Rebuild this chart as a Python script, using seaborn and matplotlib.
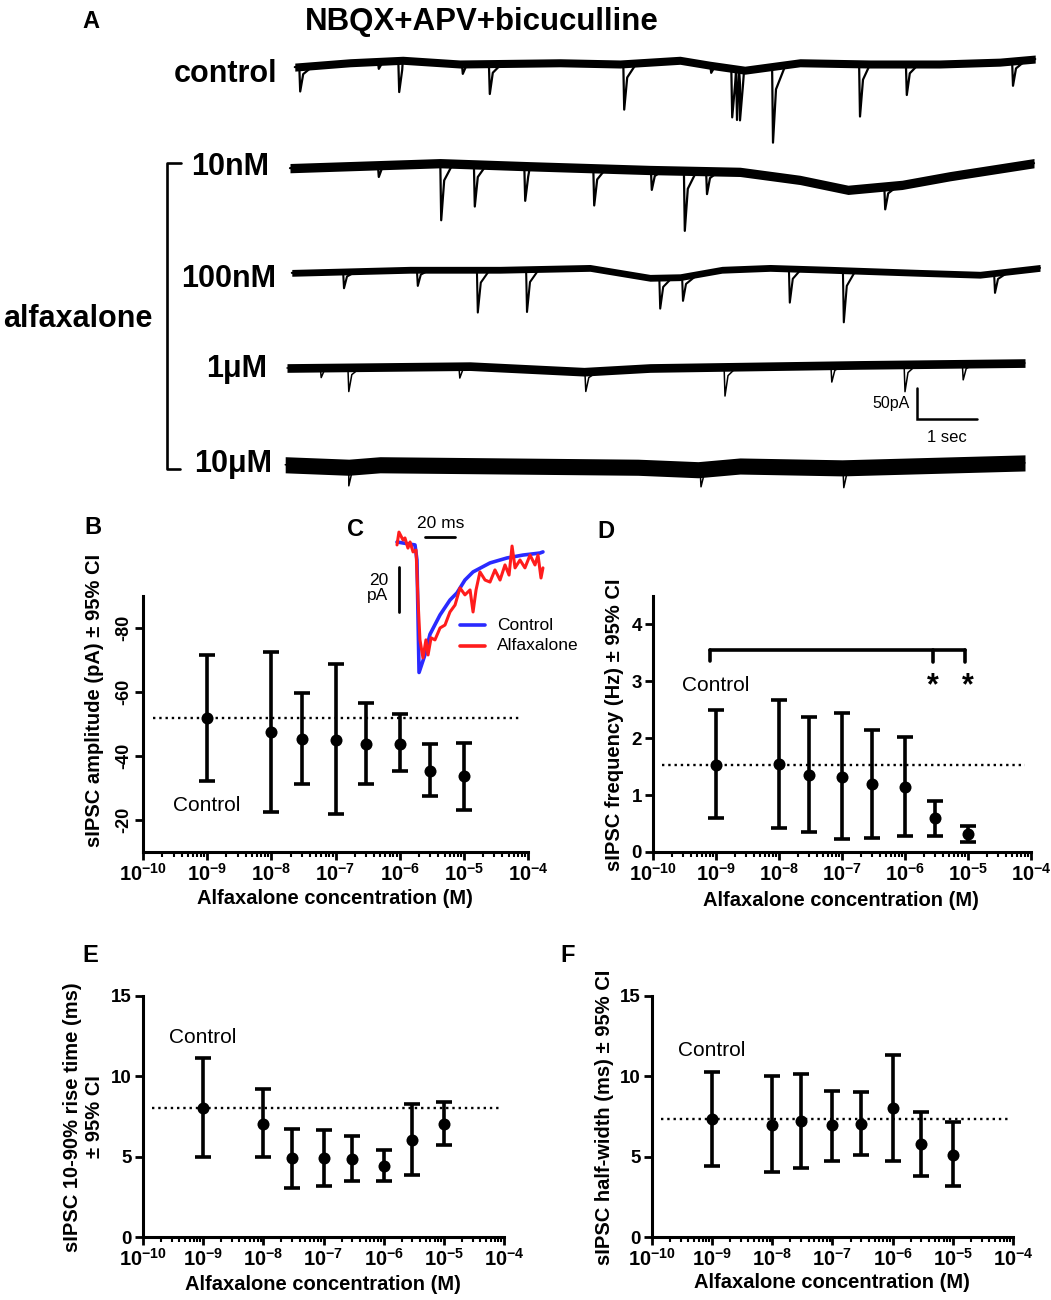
import numpy as np
import pandas as pd
import matplotlib
matplotlib.use("Agg")
import matplotlib.pyplot as plt
from matplotlib.ticker import NullFormatter
import seaborn as sns

# ---- data ----
# dose-response panels (B, D, E, F)
conc = [1e-9, 1e-8, 3e-8, 1e-7, 3e-7, 1e-6, 3e-6, 1e-5]
amp_mean = [-52.0, -47.4, -45.4, -45.0, -43.7, -43.9, -35.4, -33.6]
amp_lo = [-32.3, -22.5, -31.3, -22.0, -31.3, -35.3, -27.4, -23.2]
amp_hi = [-71.7, -72.4, -59.7, -68.6, -56.7, -53.1, -43.7, -44.2]
freq_mean = [1.53, 1.55, 1.36, 1.32, 1.19, 1.14, 0.59, 0.31]
freq_lo = [0.59, 0.43, 0.35, 0.22, 0.25, 0.29, 0.29, 0.18]
freq_hi = [2.49, 2.68, 2.38, 2.44, 2.14, 2.02, 0.89, 0.46]
rise_mean = [8.06, 7.04, 4.89, 4.91, 4.87, 4.43, 6.05, 7.02]
rise_lo = [4.97, 4.97, 3.07, 3.17, 3.50, 3.50, 3.87, 5.70]
rise_hi = [11.12, 9.20, 6.73, 6.67, 6.26, 5.39, 8.29, 8.39]
hw_mean = [7.33, 7.00, 7.21, 6.94, 7.02, 8.02, 5.78, 5.12]
hw_lo = [4.39, 4.04, 4.29, 4.74, 5.12, 4.74, 3.81, 3.19]
hw_hi = [10.30, 10.03, 10.13, 9.09, 9.01, 11.31, 7.81, 7.13]

# significance bracket in D (x positions and heights in Hz)
bracket_x = [8e-10, 2.8e-6, 9e-6]
bracket_y = 3.55
bracket_drop = [3.36, 3.34, 3.34]
star_x = [2.8e-6, 1.0e-5]

# averaged sIPSC in C (ms, pA)
ctrl_ms = [0, 12, 13.3, 14.7, 18.7, 22, 28.7, 35.3, 40, 45.3, 50.7, 62, 73.3, 84, 95.3, 97.3]
ctrl_pa = [0, -1.3, -8, -58, -50, -41, -32.4, -25.8, -22.6, -16.9, -13.3, -9.3, -7.1, -5.8, -4.9, -4.4]
alfa_ms = [0, 1.3, 4, 5.3, 7.3, 8.7, 10.7, 12.7, 14, 15.3, 17.3, 19.3, 20.7, 22.7, 25.3, 28.7,
           32, 35.3, 38.7, 42, 45.3, 48.7, 50.7, 52.7, 55.3, 58.7, 62, 65.3, 68.7, 72, 74.7,
           76.7, 78.7, 82, 85.3, 88.7, 92, 94, 96, 97.3]
alfa_pa = [-1.3, 4.4, 0.9, 1.8, -2.7, 0, -4.4, -3.6, -25.8, -43.5, -51.5, -43.5, -50.2, -42.6,
           -43.5, -38.2, -36.9, -31.1, -28, -20.4, -23.5, -21.3, -31.1, -21.3, -13.3, -16.9,
           -17.8, -12.4, -16.9, -10.2, -14.7, -1.8, -11.5, -8, -11.5, -5.8, -10.2, -5.8, -16, -11.5]

# raw traces in A: baseline drift (s, pA), events (s, pA amplitude), noise p-p (pA)
trace_names = ["control", "10nM", "100nM", "1\u03bcM", "10\u03bcM"]
ctrl_base_t = [0.08, 1.0, 1.88, 2.83, 4.5, 5.5, 6.5, 7.0, 7.58, 8.5, 9.67, 10.83, 11.83, 12.42]
ctrl_base_pa = [-5, 2, 6, 0, 2, 0, 6, -2, -10, 2, 0, 0, 3, 8]
ctrl_ev_t = [0.17, 1.48, 1.82, 2.88, 3.33, 5.57, 7.02, 7.37, 7.45, 7.50, 8.05, 9.50, 10.28, 12.05]
ctrl_ev_pa = [40, 12, 51, 16, 49, 74, 12, 79, 82, 82, 123, 85, 50, 40]
nm10_base_t = [0.0, 2.5, 4.0, 6.0, 7.5, 8.5, 9.3, 10.2, 11.0, 12.4]
nm10_base_pa = [3, 11, 6, 0, -3, -16, -32, -24, -10, 11]
nm10_ev_t = [1.48, 2.52, 3.08, 3.92, 5.07, 6.03, 6.58, 6.95, 9.92]
nm10_ev_pa = [19, 92, 68, 56, 60, 32, 97, 37, 37]
nm100_base_t = [0.03, 2.0, 3.5, 5.0, 6.0, 6.5, 7.2, 8.0, 9.0, 10.5, 11.5, 12.5]
nm100_base_pa = [-3, 2, 2, 5, -11, -10, 2, 5, 2, -3, -6, 5]
nm100_ev_t = [0.90, 2.13, 3.13, 3.95, 6.17, 6.55, 8.33, 9.23, 11.75]
nm100_ev_pa = [27, 26, 69, 69, 50, 39, 55, 84, 32]
um1_base_t = [-0.05, 3.0, 4.9, 6.0, 9.5, 12.25]
um1_base_pa = [0, 3, -6, 0, 5, 8]
um1_ev_t = [0.52, 0.98, 2.83, 4.93, 7.25, 9.03, 10.25, 11.22]
um1_ev_pa = [16, 39, 19, 32, 47, 27, 44, 26]
um10_base_t = [-0.08, 0.98, 1.5, 5.8, 6.8, 7.5, 9.2, 12.25]
um10_base_pa = [2, -2, 2, -2, -6, 0, -3, 5]
um10_ev_t = [0.98, 6.85, 9.23]
um10_ev_pa = [30, 28, 32]
noise_pp = [13, 15, 11, 14, 26]

# ---- style ----
sns.set_theme(style="ticks")
plt.rcParams["font.family"] = ["Liberation Sans", "DejaVu Sans"]
plt.rcParams["mathtext.fontset"] = "custom"
plt.rcParams["mathtext.rm"] = "Liberation Sans"
plt.rcParams["mathtext.bf"] = "Liberation Sans:bold"
for key in ["text.color", "axes.labelcolor", "xtick.color", "ytick.color", "axes.edgecolor"]:
    plt.rcParams[key] = "black"

W, H = 1051, 1300
fig = plt.figure(figsize=(W / 100, H / 100), dpi=100)


def fx(x):
    return x / W


def fy(y):
    return 1 - y / H


def rect(l, t, r, b):
    return [fx(l), fy(b), (r - l) / W, (b - t) / H]


# ---- panel A: traces ----
PX_PER_S = 60.0
PA_PER_PX = 50.0 / 31.0
T0_PX = 290
axa = fig.add_axes([0, fy(500), 1, 500 / H])
axa.set_xlim(-T0_PX / PX_PER_S, (W - T0_PX) / PX_PER_S)
axa.set_ylim(-500 * PA_PER_PX, 0)
axa.axis("off")

trace_rows_px = [64, 170, 271, 368, 466]
trace_data = [
    (ctrl_base_t, ctrl_base_pa, ctrl_ev_t, ctrl_ev_pa),
    (nm10_base_t, nm10_base_pa, nm10_ev_t, nm10_ev_pa),
    (nm100_base_t, nm100_base_pa, nm100_ev_t, nm100_ev_pa),
    (um1_base_t, um1_base_pa, um1_ev_t, um1_ev_pa),
    (um10_base_t, um10_base_pa, um10_ev_t, um10_ev_pa),
]
trace_lw = [1.6, 1.6, 1.5, 1.1, 1.1]

for row_px, (bt, bp, et, ep), npp, lw in zip(trace_rows_px, trace_data, noise_pp, trace_lw):
    off = -row_px * PA_PER_PX
    bt = np.array(bt, float)
    bp = np.array(bp, float) + off
    axa.fill_between(bt, bp - npp / 2, bp + npp / 2, color="black", lw=0)
    ts, ys = list(bt), list(bp)
    for t, a in zip(et, ep):
        b = np.interp(t, bt, bp)
        ts += [t - 0.015, t, t + 0.05, t + 0.2]
        ys += [b, b - a, b - 0.3 * a, b]
    order = np.argsort(ts, kind="stable")
    df = pd.DataFrame({"t": np.array(ts)[order], "pa": np.array(ys)[order]})
    sns.lineplot(data=df, x="t", y="pa", color="black", lw=lw, ax=axa,
                 estimator=None, sort=False)

# scale bar 50 pA / 1 s
sb_t = (917 - T0_PX) / PX_PER_S
sb_y = -419 * PA_PER_PX
axa.plot([sb_t, sb_t, sb_t + 1.0], [sb_y + 50, sb_y, sb_y], color="black", lw=1.8,
         solid_joinstyle="miter")
fig.text(fx(910), fy(404), "50pA", ha="right", va="center", fontsize=11.5)
fig.text(fx(947), fy(438), "1 sec", ha="center", va="center", fontsize=12)

fig.text(fx(91), fy(22), "A", ha="center", va="center", fontsize=17, fontweight="bold")
fig.text(fx(482), fy(22), "NBQX+APV+bicuculline", ha="center", va="center",
         fontsize=22.5, fontweight="bold")
label_right_px = [277, 269, 276, 267, 272]
label_base_px = [82, 175, 287, 377, 472]
for name, xr, yb in zip(trace_names, label_right_px, label_base_px):
    fig.text(fx(xr), fy(yb), name, ha="right", va="baseline", fontsize=22,
             fontweight="bold")
fig.text(fx(3), fy(327), "alfaxalone", ha="left", va="baseline", fontsize=22,
         fontweight="bold")
fig.add_artist(plt.Line2D([fx(181), fx(166.5), fx(166.5), fx(180)],
                          [fy(163), fy(163), fy(469), fy(469)],
                          color="black", lw=1.9))

# ---- dose-response panels ----
xt = [1e-10, 1e-9, 1e-8, 1e-7, 1e-6, 1e-5, 1e-4]
xt_labels = [r"$\mathbf{10^{%d}}$" % p for p in range(-10, -3)]


def dose_panel(box, mean, lo, hi, ylim, yticks, ctrl_y, rot=0):
    ax = fig.add_axes(rect(*box))
    ax.set_xscale("log")
    mean = np.array(mean)
    low = np.minimum(lo, hi)
    high = np.maximum(lo, hi)
    ax.errorbar(conc, mean, yerr=[mean - low, high - mean], fmt="none",
                ecolor="black", elinewidth=2.6, capsize=5.5, capthick=2.6, zorder=2)
    df = pd.DataFrame({"conc": conc, "mean": mean})
    sns.scatterplot(data=df, x="conc", y="mean", color="black", s=75,
                    edgecolor="black", linewidth=0, ax=ax, zorder=3, legend=False)
    ax.axhline(mean[0], xmin=0.025, xmax=0.985, ls=":", color="black", lw=1.7)
    ax.text(conc[0], ctrl_y, "Control", ha="center", va="center", fontsize=15)
    ax.set_xlim(1e-10, 1e-4)
    ax.set_ylim(*ylim)
    ax.set_xticks(xt)
    ax.set_xticklabels(xt_labels, fontsize=14.5)
    ax.xaxis.set_minor_formatter(NullFormatter())
    ax.set_yticks(yticks)
    if rot:
        ax.set_yticklabels([str(v) for v in yticks], rotation=90, va="center",
                           fontsize=13, fontweight="bold")
    else:
        ax.set_yticklabels([str(v) for v in yticks], fontsize=13.5, fontweight="bold")
    ax.set_xlabel("")
    ax.set_ylabel("")
    ax.tick_params(axis="x", which="major", length=6, width=2, pad=2, colors="black")
    ax.tick_params(axis="x", which="minor", length=3.5, width=1.5, colors="black")
    ax.tick_params(axis="y", which="major", length=6, width=2, pad=2, colors="black")
    ax.tick_params(axis="y", which="minor", left=False)
    sns.despine(ax=ax)
    for s in ("left", "bottom"):
        ax.spines[s].set_linewidth(2.2)
        ax.spines[s].set_color("black")
    ax.set_facecolor("none")
    return ax


axb = dose_panel((143, 596, 528, 852), amp_mean, amp_lo, amp_hi, (-10, -90),
                 [-80, -60, -40, -20], -24.5, rot=90)
axd = dose_panel((653, 596, 1031, 852), freq_mean, freq_lo, freq_hi, (0, 4.5),
                 [0, 1, 2, 3, 4], 2.92)
axe = dose_panel((143, 996, 504, 1237), rise_mean, rise_lo, rise_hi, (0, 15),
                 [0, 5, 10, 15], 12.4)
axf = dose_panel((652, 996, 1013, 1237), hw_mean, hw_lo, hw_hi, (0, 15),
                 [0, 5, 10, 15], 11.6)

# significance bracket in D
axd.plot([bracket_x[0], bracket_x[0]], [bracket_drop[0], bracket_y], color="black", lw=2.6)
axd.plot([bracket_x[0], bracket_x[-1]], [bracket_y, bracket_y], color="black", lw=2.6)
for bx, bd in zip(bracket_x[1:], bracket_drop[1:]):
    axd.plot([bx, bx], [bd, bracket_y], color="black", lw=2.6)
for sx in star_x:
    axd.text(sx, 2.78, "*", ha="center", va="baseline", fontsize=22, fontweight="bold")

lab_kw = dict(fontsize=14.5, fontweight="bold", ha="center", va="center")
xlab = "Alfaxalone concentration (M)"
fig.text(fx(335), fy(899), xlab, **lab_kw)
fig.text(fx(841), fy(900), xlab, **lab_kw)
fig.text(fx(323), fy(1284), xlab, **lab_kw)
fig.text(fx(832), fy(1283), xlab, **lab_kw)
fig.text(fx(95), fy(700), "sIPSC amplitude (pA) \u00b1 95% CI", rotation=90, **lab_kw)
fig.text(fx(615), fy(725), "sIPSC frequency (Hz) \u00b1 95% CI", rotation=90, **lab_kw)
fig.text(fx(84), fy(1117), "sIPSC 10-90% rise time (ms)\n\u00b1 95% CI", rotation=90,
         multialignment="center", **lab_kw)
fig.text(fx(605), fy(1117), "sIPSC half-width (ms) \u00b1 95% CI", rotation=90, **lab_kw)

for letter, (lx, ly) in zip("BCDEF", [(93, 527), (356, 530), (606, 531), (90, 955), (568, 955)]):
    fig.text(fx(lx), fy(ly), letter, ha="center", va="center", fontsize=17, fontweight="bold")

# ---- panel C inset ----
MS_PER_PX = 20 / 30
PA_C = 20 / 45
C_X0, C_Y0 = 397, 542
axc = fig.add_axes(rect(380, 510, 600, 690))
axc.set_xlim((380 - C_X0) * MS_PER_PX, (600 - C_X0) * MS_PER_PX)
axc.set_ylim(-(690 - C_Y0) * PA_C, -(510 - C_Y0) * PA_C)
axc.axis("off")
blue, red = "#2a2aff", "#ff1c1c"
sns.lineplot(x=ctrl_ms, y=ctrl_pa, color=blue, lw=2.6, ax=axc, estimator=None, sort=False)
sns.lineplot(x=alfa_ms, y=alfa_pa, color=red, lw=2.2, ax=axc, estimator=None, sort=False)
# scale bars 20 ms / 20 pA
axc.plot([18.7, 38.7], [2.2, 2.2], color="black", lw=2)
axc.plot([1.3, 1.3], [-11.1, -31.1], color="black", lw=2)
axc.text(29, 8.4, "20 ms", ha="center", va="center", fontsize=12.5)
axc.text(-6, -20.3, "20\npA", ha="right", va="center", fontsize=12.5, linespacing=1.0,
         clip_on=False)
# legend
for col, yy, name in [(blue, -36.9, "Control"), (red, -46.2, "Alfaxalone")]:
    axc.plot([42, 58.7], [yy, yy], color=col, lw=2.6)
    axc.text(66.7, yy, name, ha="left", va="center", fontsize=12.5, clip_on=False)

fig.savefig("out.png", dpi=100)
